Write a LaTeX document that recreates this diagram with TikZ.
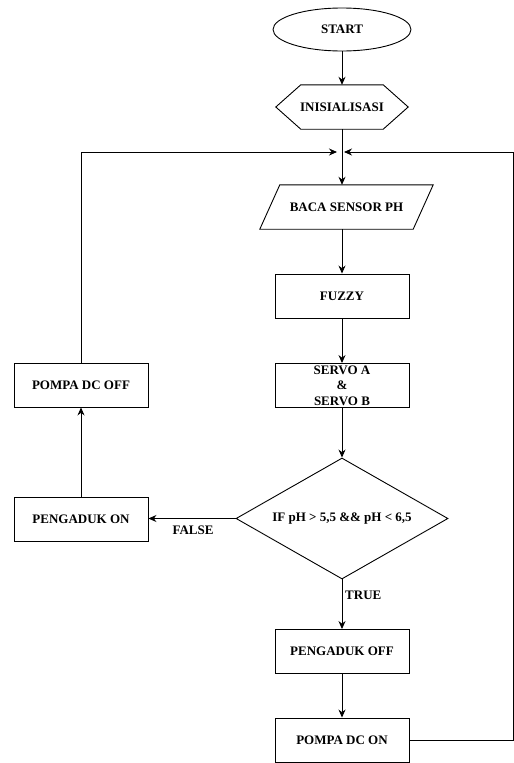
\documentclass[tikz,border=0pt]{standalone}
\usepackage{fontspec}
\setmainfont{Liberation Serif}
\usetikzlibrary{shapes.geometric, arrows.meta}
\tikzstyle{chart} = [x = 1pt, y = -1pt, every node/.style={font=\bfseries\fontsize{13}{15.5}\selectfont}]
\tikzstyle{lineStyle} = [color=black, line width=.9pt]
\tikzstyle{flowArrow} = [lineStyle, -{Stealth[length=8pt, width=7pt]}]
\tikzstyle{processStyle} = [draw, lineStyle, minimum width=134pt, minimum height=44pt, inner sep=0pt]
\tikzstyle{terminalStyle} = [draw, lineStyle, ellipse, minimum width=138pt, minimum height=43pt]
\tikzstyle{decisionStyle} = [draw, lineStyle, diamond, aspect=1.75, minimum width=212pt, minimum height=121pt, inner sep=0pt]
\tikzstyle{plainBox} = [minimum height=44pt, inner sep=0pt]
\tikzstyle{labelText} = [inner sep=2pt]
\newcommand{\processBox}[3]{\node [processStyle] (#1) at (#2) {#3};}
\begin{document}
\begin{tikzpicture}[chart]
  \useasboundingbox (0,0) rectangle (514,763);
  % main column
  \node [terminalStyle] (start) at (342,29.5) {START};
  \node [plainBox, minimum width=132pt] (init) at (342,107) {INISIALISASI};
  \draw [lineStyle] ([xshift=25pt]init.north west) -- ([xshift=-25pt]init.north east) -- (init.east)
    -- ([xshift=-25pt]init.south east) -- ([xshift=25pt]init.south west) -- (init.west) -- cycle;
  \coordinate (join) at (342,152);
  \node [plainBox, minimum width=153pt] (baca) at (346.5,207) {BACA SENSOR PH};
  \draw [lineStyle] ([xshift=10pt]baca.north west) -- ([xshift=10pt]baca.north east)
    -- ([xshift=-10pt]baca.south east) -- ([xshift=-10pt]baca.south west) -- cycle;
  \processBox{fuzzy}{342,296}{FUZZY}
  \node [processStyle, align=center] (servo) at (342,385.5) {SERVO A\\\&\\SERVO B};
  \node [decisionStyle] (check) at (342,518.5) {IF pH > 5,5 \&\& pH < 6,5};
  \processBox{stirOff}{342,651.5}{PENGADUK OFF}
  \processBox{pumpOn}{342,740}{POMPA DC ON}
  % false branch
  \processBox{stirOn}{81,519}{PENGADUK ON}
  \processBox{pumpOff}{81,385}{POMPA DC OFF}
  \node [labelText, anchor=west] (trueLabel) at (343,595) {TRUE};
  \node [labelText] (falseLabel) at (193,530) {FALSE};
  \coordinate (loopCorner) at (513,152);

  \draw [flowArrow] (start) -- (init);
  \draw [lineStyle] (init.south) -- (join);
  \draw [flowArrow] (join) -- (join |- baca.north);
  \draw [flowArrow] (fuzzy.north |- baca.south) -- (fuzzy.north);
  \draw [flowArrow] (fuzzy) -- (servo);
  \draw [flowArrow] (servo) -- (check);
  \draw [flowArrow] (check) -- (stirOff);
  \draw [flowArrow] (stirOff) -- (pumpOn);
  \draw [flowArrow] (check.west) -- (check.west -| stirOn.east);
  \draw [flowArrow] (stirOn) -- (pumpOff);
  \draw [flowArrow] (pumpOff) |- ([xshift=-5pt]join);
  \draw [flowArrow] (pumpOn) -| (loopCorner) -- ([xshift=2pt]join);
\end{tikzpicture}
\end{document}
